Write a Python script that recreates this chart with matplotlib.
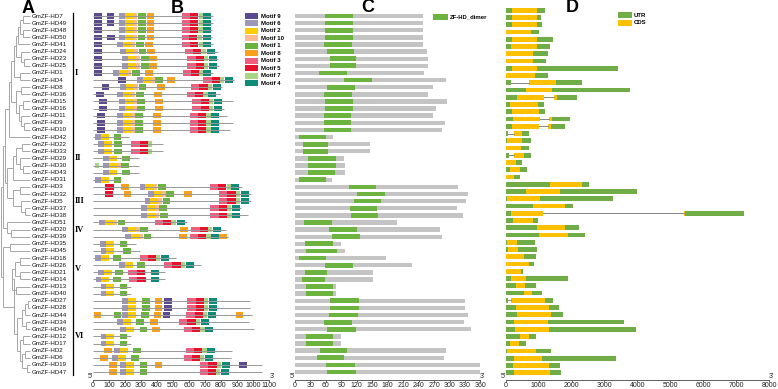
import matplotlib
matplotlib.use('Agg')
import matplotlib.pyplot as plt

plt.rcParams['font.family'] = ['Liberation Sans', 'DejaVu Sans']

W, H = 778, 389

# gene order (top to bottom)
genes = ['HD7', 'HD49', 'HD48', 'HD50', 'HD41', 'HD24', 'HD23', 'HD25', 'HD1', 'HD4',
         'HD8', 'HD36', 'HD15', 'HD16', 'HD11', 'HD9', 'HD10', 'HD42', 'HD22', 'HD33',
         'HD29', 'HD30', 'HD43', 'HD31', 'HD3', 'HD32', 'HD5', 'HD37', 'HD38', 'HD51',
         'HD20', 'HD39', 'HD35', 'HD45', 'HD18', 'HD26', 'HD21', 'HD14', 'HD13', 'HD40',
         'HD27', 'HD28', 'HD44', 'HD34', 'HD46', 'HD12', 'HD17', 'HD2', 'HD6', 'HD19', 'HD47']

groups = ['I', 'II', 'III', 'IV', 'V', 'VI']
group_first = [0, 17, 24, 29, 32, 40]
group_last = [16, 23, 28, 31, 39, 50]

# phylogenetic tree: [node x position, children...]
tree = [1,
        [3,
         [5,
          [9,
           [11,
            [14,
             [16,
              [18, [20, [23, 'HD7', 'HD49'], [23, 'HD48', 'HD50']], 'HD41'],
              [21, 'HD24', [24, 'HD23', 'HD25']]],
             [20, 'HD1', 'HD4']],
            [16,
             [21, 'HD8', 'HD36'],
             [19, [23, 'HD15', 'HD16'], [21, 'HD11', [24, 'HD9', 'HD10']]]]],
           'HD42'],
          [7,
           [13, [16, [22, 'HD22', 'HD33'], [20, 'HD29', [23, 'HD30', 'HD43']]], 'HD31'],
           [13, [20, 'HD3', 'HD32'], [21, 'HD5', [25, 'HD37', 'HD38']]]]],
         [7, 'HD51', [11, 'HD20', 'HD39']]],
        [3.5,
         [10, 'HD35', 'HD45'],
         [14,
          [12, [15, [20, 'HD18', 'HD26'], [20, 'HD21', 'HD14']], [16, 'HD13', 'HD40']],
          [17,
           [22, [25, [28, 'HD27', 'HD28'], 'HD44'], [26, 'HD34', 'HD46']],
           [20, [23, 'HD12', 'HD17'], [22, [25, 'HD2', 'HD6'], [27, 'HD19', 'HD47']]]]]]]

# panel B: motifs
motif_names = ['Motif 9', 'Motif 6', 'Motif 2', 'Motif 10', 'Motif 1',
               'Motif 8', 'Motif 3', 'Motif 5', 'Motif 7', 'Motif 4']
motif_ids = [9, 6, 2, 10, 1, 8, 3, 5, 7, 4]
motif_colors = ['#5B4A8F', '#9C96B8', '#FFCC00', '#FBBB8E', '#6BB33F',
                '#F9A11B', '#EF5D80', '#E8112D', '#A8D685', '#0F8B79']
motif_width = [48, 37, 50, 25, 49, 49, 51, 51, 27, 50]

prot_len = [752, 752, 744, 744, 752, 783, 783, 790, 752, 883,
            804, 794, 877, 820, 840, 877, 856, 225, 436, 436,
            287, 290, 287, 174, 932, 988, 988, 928, 969, 590,
            834, 844, 266, 291, 518, 676, 451, 451, 236, 236,
            980, 980, 994, 973, 1004, 236, 236, 871, 861, 1055, 1055]

sites = [
    [(9, 8), (9, 85), (6, 165), (2, 202), (10, 252), (1, 281), (8, 335), (3, 554), (5, 606), (7, 660), (4, 690)],
    [(9, 8), (9, 85), (6, 165), (2, 202), (10, 252), (1, 281), (8, 335), (3, 554), (5, 606), (7, 660), (4, 690)],
    [(9, 8), (6, 165), (2, 202), (10, 252), (1, 281), (8, 335), (3, 554), (5, 606), (7, 658), (4, 688)],
    [(9, 8), (9, 88), (6, 163), (2, 200), (10, 248), (1, 279), (8, 335), (3, 554), (5, 602), (7, 656), (4, 688)],
    [(9, 8), (6, 152), (2, 190), (10, 237), (1, 267), (8, 325), (3, 554), (5, 606), (7, 660), (4, 690)],
    [(9, 8), (6, 169), (2, 206), (10, 256), (1, 285), (8, 340), (3, 575), (5, 627), (7, 680), (4, 710)],
    [(9, 8), (6, 181), (2, 219), (10, 269), (1, 298), (8, 350), (3, 590), (5, 642), (7, 694), (4, 723)],
    [(9, 8), (6, 181), (2, 219), (10, 269), (1, 298), (8, 350), (3, 590), (5, 642), (7, 694), (4, 723)],
    [(9, 8), (6, 127), (2, 165), (10, 215), (1, 244), (8, 325), (3, 560), (5, 611), (7, 663), (4, 690)],
    [(9, 158), (6, 273), (2, 310), (10, 360), (1, 390), (8, 465), (3, 690), (5, 742), (7, 794), (4, 825)],
    [(9, 54), (6, 169), (2, 206), (10, 256), (1, 285), (8, 402), (3, 613), (5, 665), (7, 717), (4, 748)],
    [(9, 19), (6, 152), (2, 190), (10, 237), (1, 269), (8, 381), (3, 585), (5, 637), (7, 690), (4, 719)],
    [(9, 37), (6, 164), (2, 201), (10, 250), (1, 277), (8, 389), (3, 621), (5, 672), (7, 724), (4, 754)],
    [(9, 37), (6, 164), (2, 201), (10, 250), (1, 277), (8, 389), (3, 621), (5, 672), (7, 724), (4, 754)],
    [(9, 25), (6, 150), (2, 186), (10, 236), (1, 262), (8, 375), (3, 605), (5, 656), (7, 708), (4, 738)],
    [(9, 25), (6, 150), (2, 186), (10, 236), (1, 262), (8, 375), (3, 605), (5, 656), (7, 708), (4, 738)],
    [(9, 25), (6, 150), (2, 186), (10, 236), (1, 262), (8, 375), (3, 605), (5, 656), (7, 708), (4, 738)],
    [(6, 10), (2, 47), (1, 129)],
    [(6, 31), (2, 68), (1, 133), (3, 240), (5, 291), (7, 343)],
    [(6, 31), (2, 68), (1, 133), (3, 240), (5, 291), (7, 343)],
    [(6, 61), (2, 98), (1, 180)],
    [(7, 10), (6, 61), (2, 98), (10, 148), (1, 176)],
    [(6, 61), (2, 98), (1, 180)],
    [(6, 10), (2, 47), (1, 129)],
    [(5, 78), (8, 174), (6, 291), (2, 328), (10, 378), (1, 406), (3, 732), (5, 783), (7, 835), (4, 865)],
    [(5, 76), (8, 191), (6, 342), (2, 379), (10, 429), (1, 457), (8, 570), (3, 789), (5, 840), (7, 891), (4, 922)],
    [(6, 322), (2, 359), (10, 409), (1, 435), (3, 789), (5, 840), (7, 891), (4, 922)],
    [(6, 301), (2, 338), (10, 388), (1, 414), (3, 734), (5, 785), (7, 837), (4, 867)],
    [(6, 301), (2, 338), (10, 388), (1, 418), (3, 734), (5, 785), (7, 840), (4, 871)],
    [(6, 37), (2, 74), (10, 124), (1, 154), (3, 387), (5, 438), (7, 490), (4, 523)],
    [(6, 180), (2, 217), (10, 267), (1, 295), (8, 543), (3, 615), (5, 666), (7, 718), (4, 748)],
    [(6, 201), (2, 238), (10, 288), (1, 316), (8, 539), (3, 605), (5, 656), (7, 708), (4, 738), (8, 790)],
    [(6, 43), (2, 80), (1, 166)],
    [(6, 47), (2, 84), (1, 189)],
    [(6, 10), (2, 47), (1, 127), (3, 291), (5, 342), (7, 394), (4, 426)],
    [(6, 160), (2, 197), (1, 277), (3, 445), (5, 496), (7, 548), (4, 580)],
    [(6, 33), (2, 70), (1, 139), (3, 221), (5, 272), (4, 363)],
    [(6, 16), (2, 53), (1, 123), (3, 227), (5, 278), (4, 363)],
    [(6, 47), (2, 84), (1, 166)],
    [(6, 47), (2, 84), (1, 166)],
    [(6, 184), (2, 221), (1, 307), (8, 385), (9, 445), (3, 590), (5, 641), (7, 693), (4, 725)],
    [(6, 184), (2, 221), (1, 307), (8, 385), (9, 445), (3, 590), (5, 641), (7, 693), (4, 725)],
    [(8, 4), (1, 129), (6, 180), (2, 217), (1, 301), (8, 379), (9, 436), (3, 584), (5, 635), (7, 687), (4, 719), (8, 891)],
    [(6, 150), (2, 186), (1, 270), (8, 355), (3, 539), (5, 590), (7, 642), (4, 672)],
    [(6, 170), (2, 207), (1, 291), (8, 371), (3, 568), (5, 619), (7, 671), (4, 701)],
    [(6, 47), (2, 84), (1, 166)],
    [(6, 47), (2, 84), (1, 166)],
    [(8, 68), (6, 133), (2, 170), (1, 250), (3, 580), (5, 631), (7, 683), (4, 711)],
    [(8, 45), (6, 117), (2, 154), (1, 238), (3, 566), (5, 617), (7, 669), (4, 701)],
    [(8, 98), (6, 168), (2, 205), (1, 291), (8, 385), (3, 670), (5, 721), (7, 773), (4, 805), (9, 912)],
    [(8, 98), (6, 168), (2, 205), (1, 291), (3, 666), (5, 717), (7, 769), (4, 801)],
]

# panel C: ZF-HD_dimer domain
c_len = [249, 249, 249, 248, 249, 256, 259, 259, 250, 293,
         268, 259, 296, 274, 268, 292, 285, 74, 146, 146,
         96, 97, 98, 72, 316, 335, 332, 314, 327, 199,
         281, 285, 89, 97, 176, 228, 152, 152, 79, 79,
         331, 331, 336, 329, 341, 89, 89, 294, 290, 360, 360]
c_dom_start = [58, 58, 58, 58, 56, 63, 67, 67, 47, 95,
               63, 57, 58, 58, 56, 56, 56, 8, 15, 15,
               26, 26, 25, 8, 104, 121, 115, 107, 109, 17,
               66, 72, 19, 21, 8, 58, 19, 14, 21, 21,
               68, 68, 66, 57, 63, 21, 21, 49, 43, 61, 63]
c_dom_end = [113, 113, 113, 113, 110, 115, 118, 118, 101, 149,
             116, 110, 113, 113, 109, 109, 109, 61, 65, 65,
             80, 80, 78, 61, 157, 175, 167, 160, 162, 71,
             120, 126, 73, 81, 61, 112, 63, 58, 74, 74,
             124, 124, 122, 111, 118, 74, 74, 100, 96, 116, 118]

# panel D: gene structure (U = UTR, C = CDS, I = intron)
d_kinds = ['UCU', 'UCU', 'UCU', 'UCU', 'UCU', 'UCU', 'UCU', 'UCU', 'UCU', 'UCU',
           'UICU', 'UCU', 'UCICU', 'UCU', 'UCU', 'UCICU', 'UCICU', 'UICU', 'UCU', 'UCU',
           'UICU', 'UCU', 'UCU', 'UCU', 'UCU', 'UCU', 'UCU', 'UCU', 'UCICU', 'UCU',
           'UCU', 'UCU', 'UCU', 'UCU', 'UCU', 'UCU', 'UCU', 'UCU', 'UCU', 'UCU',
           'UICU', 'UCU', 'UCU', 'UCU', 'UCU', 'UCU', 'UCU', 'UCU', 'UCU', 'UCU', 'UCU']
d_bounds = [
    [0, 183, 943, 1197], [0, 203, 963, 1075], [0, 183, 943, 1095], [0, 10, 770, 1014],
    [0, 183, 963, 1450], [0, 162, 963, 1359], [0, 20, 821, 1288], [0, 20, 821, 1227],
    [0, 183, 943, 3407], [0, 10, 892, 1288], [0, 162, 720, 1531, 2332], [0, 619, 1410, 3772],
    [0, 345, 1166, 1470, 1551, 2180], [0, 132, 994, 1166], [0, 183, 1024, 1197],
    [0, 213, 1044, 1318, 1399, 1947], [0, 183, 1004, 1298, 1369, 1795], [0, 81, 243, 487, 700],
    [0, 30, 487, 760], [0, 20, 466, 720], [0, 101, 243, 548, 781], [0, 10, 304, 497],
    [0, 132, 436, 639], [0, 10, 243, 426], [0, 1349, 2312, 2545], [0, 619, 1653, 3975],
    [0, 30, 1044, 3245], [0, 842, 1805, 2048], [0, 162, 1126, 5405, 5445, 7250], [0, 213, 821, 994],
    [0, 943, 1805, 2241], [0, 1024, 1886, 2423], [0, 51, 335, 902], [0, 61, 365, 943],
    [0, 10, 558, 923], [0, 10, 700, 872], [0, 10, 456, 527], [0, 162, 619, 1886],
    [0, 314, 588, 913], [0, 558, 811, 1095], [0, 61, 162, 1197, 1450], [0, 304, 1328, 1633],
    [0, 335, 1379, 1754], [0, 264, 1278, 3600], [0, 284, 1318, 3955], [0, 436, 720, 923],
    [0, 132, 406, 629], [0, 30, 923, 1379], [0, 243, 1115, 3346], [0, 233, 1318, 1653],
    [0, 264, 1338, 1673]]

utr_color = '#70AD47'
cds_color = '#FFC000'
dom_color = '#6DB33F'
bar_grey = '#C4C4C4'

row_y0, row_dy = 16.0, 7.12     # panels A-C, pixels
d_y0, d_dy = 10.3, 7.25         # panel D, pixels
axis_y = 379.5

fig = plt.figure(figsize=(W / 100, H / 100), dpi=100)


def add_panel(x0, x1, y0, dy):
    ax = fig.add_axes([x0 / W, 1 - axis_y / H, (x1 - x0) / W, (axis_y - 4) / H])
    ax.set_ylim((axis_y - y0) / dy, (4 - y0) / dy)
    for s in ['top', 'right', 'left']:
        ax.spines[s].set_visible(False)
    ax.spines['bottom'].set_linewidth(0.6)
    ax.spines['bottom'].set_color('#444444')
    ax.set_yticks([])
    ax.tick_params(axis='x', length=1.5, width=0.5, labelsize=5, pad=0.3, colors='#222222')
    return ax


n = len(genes)
rows = list(range(n))

# ---- panel B
axB = add_panel(93, 269, row_y0, row_dy)
axB.set_xlim(0, 1100)
axB.set_xticks(range(0, 1101, 100))
axB.hlines(rows, 0, prot_len, color='#999999', lw=0.7)
for i, s in enumerate(sites):
    for m, st in s:
        k = motif_ids.index(m)
        axB.barh(i, motif_width[k], left=st, height=0.78, color=motif_colors[k], lw=0)

# ---- panel C
axC = add_panel(295, 295 + 360 * 0.515, row_y0, row_dy)
axC.set_xlim(0, 360)
axC.set_xticks(range(0, 361, 30))
axC.barh(rows, c_len, height=0.62, color=bar_grey, lw=0)
axC.barh(rows, [e - s for s, e in zip(c_dom_start, c_dom_end)], left=c_dom_start,
         height=0.66, color=dom_color, lw=0)

# ---- panel D
axD = add_panel(505.7, 769, d_y0, d_dy)
axD.set_xlim(0, 8000)
axD.set_xticks(range(0, 8001, 1000))
for i, (kinds, b) in enumerate(zip(d_kinds, d_bounds)):
    for j, kd in enumerate(kinds):
        if kd == 'I':
            axD.plot([b[j], b[j + 1]], [i, i], color='#888888', lw=0.7)
        else:
            axD.barh(i, b[j + 1] - b[j], left=b[j], height=0.66,
                     color=utr_color if kd == 'U' else cds_color, lw=0)

# ---- overlay in pixel coordinates: tree, labels, legends
ov = fig.add_axes([0, 0, 1, 1])
ov.set_xlim(0, W)
ov.set_ylim(H, 0)
ov.axis('off')

leaf_x = 30.5


def ypos(i):
    return row_y0 + i * row_dy


def draw(node):
    if isinstance(node, str):
        return leaf_x, ypos(genes.index(node))
    x = node[0]
    kids = [draw(k) for k in node[1:]]
    ys = [k[1] for k in kids]
    for cx, cy in kids:
        ov.plot([x, cx], [cy, cy], color='#A6A6A6', lw=0.7, solid_capstyle='butt')
    ov.plot([x, x], [min(ys), max(ys)], color='#A6A6A6', lw=0.7, solid_capstyle='butt')
    return x, (min(ys) + max(ys)) / 2


draw(tree)

for i, g in enumerate(genes):
    ov.text(32, ypos(i), 'GmZF-' + g, fontsize=4.4, va='center', ha='left', color='#111111')

for gname, a, b in zip(groups, group_first, group_last):
    ov.plot([73, 73], [ypos(a) - 3, ypos(b) + 3], color='black', lw=0.9)
    ov.text(75, (ypos(a) + ypos(b)) / 2, gname, fontsize=6, fontweight='bold',
            va='center', ha='left', family=['Liberation Serif', 'DejaVu Serif'])

# motif legend
for k, name in enumerate(motif_names):
    y = 16 + k * 7.45
    ov.add_patch(plt.Rectangle((245, y - 3), 13, 6, color=motif_colors[k], lw=0))
    ov.text(261, y, name, fontsize=4.3, fontweight='bold', va='center', ha='left')

# domain legend
ov.add_patch(plt.Rectangle((433, 13.5), 15, 6, color=dom_color, lw=0))
ov.text(450, 16.5, 'ZF-HD_dimer', fontsize=4.3, fontweight='bold', va='center', ha='left')

# gene structure legend
for y, lab, col in [(15, 'UTR', utr_color), (22.7, 'CDS', cds_color)]:
    ov.add_patch(plt.Rectangle((617.7, y - 2.8), 14.3, 5.6, color=col, lw=0))
    ov.text(633.5, y, lab, fontsize=4.3, fontweight='bold', va='center', ha='left')

# panel letters
for lab, x, y in [('A', 28, 8), ('B', 177, 8), ('C', 368, 7), ('D', 572, 7)]:
    ov.text(x, y, lab, fontsize=13, fontweight='bold', ha='center', va='center')

# 5' / 3' marks
for x, lab in [(90, "5'"), (272, "3'"), (292, "5'"), (482, "3'"), (503, "5'"), (771, "3'")]:
    ov.text(x, axis_y - 3.5, lab, fontsize=5, ha='center', va='center', color='#222222')

fig.savefig('out.png', dpi=100)
